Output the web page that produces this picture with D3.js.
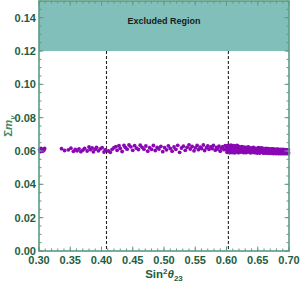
<!DOCTYPE html>
<html lang="en">
<head>
<meta charset="utf-8">
<script src="https://d3js.org/d3.v7.min.js"></script>
<style>
  body { margin: 0; background: #fff; }
  text { font-family: "Liberation Sans", Arial, sans-serif; }
</style>
</head>
<body>
<svg id="chart" width="300" height="285"></svg>
<script>
// tick labels
const xTicks = [0.30, 0.35, 0.40, 0.45, 0.50, 0.55, 0.60, 0.65, 0.70];
const yTicks = [0.00, 0.02, 0.04, 0.06, 0.08, 0.10, 0.12, 0.14];

// excluded band (cosmology bound) and 3-sigma dashed limits
const excluded = [0.12, 0.15];
const limits = [0.408, 0.603];

// scatter: sin^2 theta23 vs sum m_nu
const sin2Theta23 = [
  0.301, 0.302, 0.303, 0.304, 0.305, 0.306, 0.308, 0.309,
  0.336, 0.341, 0.347, 0.351, 0.355, 0.358, 0.361, 0.364, 0.367, 0.370, 0.373, 0.377,
  0.380, 0.382, 0.385, 0.387, 0.390, 0.392, 0.395, 0.398, 0.401, 0.404, 0.406,
  0.411, 0.414, 0.417, 0.420, 0.423, 0.425, 0.428, 0.430, 0.433, 0.436, 0.438, 0.441,
  0.444, 0.447, 0.450, 0.453, 0.456, 0.459, 0.462, 0.465, 0.468, 0.471, 0.474, 0.477,
  0.480, 0.483, 0.486, 0.489, 0.492, 0.495, 0.498,
  0.501, 0.504, 0.507, 0.510, 0.513, 0.516, 0.519, 0.522, 0.525, 0.528, 0.531, 0.534,
  0.537, 0.540, 0.542, 0.545, 0.548, 0.550, 0.553, 0.555, 0.558, 0.560, 0.563, 0.565,
  0.568, 0.570, 0.572, 0.575, 0.577, 0.579, 0.582, 0.584, 0.586, 0.588, 0.590, 0.592,
  0.594, 0.596, 0.598, 0.599,
  0.601, 0.601, 0.601, 0.601, 0.603, 0.603, 0.603, 0.603, 0.605, 0.605, 0.605, 0.605,
  0.607, 0.607, 0.607, 0.607, 0.609, 0.609, 0.609, 0.609, 0.611, 0.611, 0.611, 0.611,
  0.613, 0.613, 0.613, 0.613, 0.615, 0.615, 0.615, 0.615, 0.617, 0.617, 0.617, 0.617,
  0.619, 0.619, 0.619, 0.619, 0.621, 0.621, 0.621, 0.623, 0.623, 0.623,
  0.625, 0.625, 0.625, 0.627, 0.627, 0.627, 0.629, 0.629, 0.629, 0.631, 0.631, 0.631,
  0.633, 0.633, 0.633, 0.635, 0.635, 0.635, 0.637, 0.637, 0.637, 0.639, 0.639, 0.639,
  0.641, 0.641, 0.641, 0.643, 0.643, 0.643, 0.645, 0.645, 0.645, 0.647, 0.647, 0.647,
  0.649, 0.649, 0.649, 0.651, 0.651, 0.651, 0.653, 0.653, 0.653, 0.655, 0.655, 0.655,
  0.657, 0.657, 0.657, 0.659, 0.659, 0.659, 0.661, 0.661, 0.661, 0.663, 0.663, 0.663,
  0.665, 0.665, 0.665, 0.667, 0.667, 0.667, 0.669, 0.669, 0.669, 0.671, 0.671, 0.671,
  0.673, 0.673, 0.673, 0.675, 0.675, 0.675, 0.677, 0.677, 0.677, 0.679, 0.679, 0.679,
  0.681, 0.681, 0.681, 0.683, 0.683, 0.683, 0.685, 0.685, 0.685, 0.687, 0.687, 0.687,
  0.689, 0.689, 0.689, 0.691, 0.691, 0.691, 0.693, 0.693, 0.693, 0.695, 0.695, 0.695,
  0.697, 0.697, 0.697, 0.699, 0.699, 0.699
];
const sumMnu = [
  0.0608, 0.0596, 0.0616, 0.0602, 0.0611, 0.0599, 0.0606, 0.0615,
  0.0614, 0.0603, 0.0607, 0.0617, 0.0598, 0.0609, 0.0601, 0.0613, 0.0596, 0.0605, 0.0616, 0.0600,
  0.0624, 0.0608, 0.0618, 0.0595, 0.0611, 0.0622, 0.0601, 0.0613, 0.0620, 0.0594, 0.0606,
  0.0600, 0.0592, 0.0610, 0.0620, 0.0626, 0.0604, 0.0632, 0.0616, 0.0597, 0.0634, 0.0622, 0.0611,
  0.0636, 0.0625, 0.0604, 0.0632, 0.0617, 0.0609, 0.0635, 0.0622, 0.0611, 0.0630, 0.0599, 0.0620,
  0.0610, 0.0633, 0.0603, 0.0621, 0.0612, 0.0628, 0.0596,
  0.0620, 0.0607, 0.0631, 0.0615, 0.0599, 0.0624, 0.0610, 0.0634, 0.0592, 0.0618, 0.0629, 0.0604,
  0.0622, 0.0637, 0.0612, 0.0627, 0.0601, 0.0619, 0.0633, 0.0608, 0.0623, 0.0615, 0.0636, 0.0603,
  0.0620, 0.0630, 0.0610, 0.0625, 0.0615, 0.0634, 0.0605, 0.0621, 0.0612, 0.0629, 0.0599, 0.0617,
  0.0626, 0.0608, 0.0632, 0.0614,
  0.0630, 0.0616, 0.0604, 0.0592, 0.0634, 0.0621, 0.0608, 0.0596, 0.0628, 0.0613, 0.0600, 0.0590,
  0.0624, 0.0611, 0.0598, 0.0635, 0.0629, 0.0617, 0.0603, 0.0591, 0.0632, 0.0619, 0.0606, 0.0594,
  0.0627, 0.0614, 0.0601, 0.0589, 0.0630, 0.0618, 0.0605, 0.0593, 0.0625, 0.0612, 0.0599, 0.0633,
  0.0628, 0.0615, 0.0602, 0.0590, 0.0624, 0.0609, 0.0596, 0.0621, 0.0607, 0.0594,
  0.0626, 0.0612, 0.0598, 0.0619, 0.0605, 0.0591, 0.0623, 0.0609, 0.0596, 0.0617, 0.0603, 0.0590,
  0.0621, 0.0607, 0.0594, 0.0615, 0.0601, 0.0624, 0.0619, 0.0606, 0.0592, 0.0614, 0.0600, 0.0589,
  0.0618, 0.0604, 0.0593, 0.0612, 0.0598, 0.0622, 0.0617, 0.0603, 0.0590, 0.0613, 0.0599, 0.0608,
  0.0616, 0.0602, 0.0588, 0.0611, 0.0597, 0.0620, 0.0615, 0.0601, 0.0588, 0.0618, 0.0604, 0.0592,
  0.0611, 0.0597, 0.0617, 0.0614, 0.0600, 0.0587, 0.0611, 0.0596, 0.0605, 0.0616, 0.0599, 0.0587,
  0.0610, 0.0596, 0.0614, 0.0614, 0.0599, 0.0586, 0.0608, 0.0594, 0.0603, 0.0613, 0.0598, 0.0586,
  0.0607, 0.0593, 0.0612, 0.0612, 0.0597, 0.0585, 0.0606, 0.0592, 0.0602, 0.0611, 0.0596, 0.0585,
  0.0605, 0.0591, 0.0609, 0.0611, 0.0595, 0.0584, 0.0604, 0.0590, 0.0600, 0.0610, 0.0595, 0.0584,
  0.0604, 0.0590, 0.0608, 0.0609, 0.0594, 0.0584, 0.0603, 0.0589, 0.0599, 0.0608, 0.0593, 0.0584,
  0.0602, 0.0588, 0.0606, 0.0607, 0.0593, 0.0584
];

const svg = d3.select("#chart");
const margin = {top: 1, right: 11, bottom: 34, left: 39};
const width = 300 - margin.left - margin.right,
      height = 285 - margin.top - margin.bottom;

const frameColor = "#5c9c82",
      labelColor = "#1d5e3e";

const g = svg.append("g").attr("transform", `translate(${margin.left},${margin.top})`);

const x = d3.scaleLinear().domain([0.30, 0.70]).range([0, width]);
const y = d3.scaleLinear().domain([0, 0.15]).range([height, 0]);

// excluded region
g.append("rect")
  .attr("x", 0)
  .attr("y", y(excluded[1]))
  .attr("width", width)
  .attr("height", y(excluded[0]) - y(excluded[1]))
  .attr("fill", "#80bfba");

g.append("text")
  .attr("x", x(0.50))
  .attr("y", y(0.1375))
  .attr("text-anchor", "middle")
  .attr("dominant-baseline", "middle")
  .attr("font-size", 9)
  .attr("font-weight", "bold")
  .attr("fill", "#1a1a1a")
  .text("Excluded Region");

// dashed limits
g.selectAll(".limit")
  .data(limits)
  .join("line")
  .attr("class", "limit")
  .attr("x1", d => x(d)).attr("x2", d => x(d))
  .attr("y1", y(excluded[0])).attr("y2", height)
  .attr("stroke", "#222")
  .attr("stroke-width", 1.1)
  .attr("stroke-dasharray", "3,2");

// points
g.append("g")
  .selectAll("circle")
  .data(d3.range(sin2Theta23.length))
  .join("circle")
  .attr("cx", i => x(sin2Theta23[i]))
  .attr("cy", i => y(sumMnu[i]))
  .attr("r", 1.9)
  .attr("fill", "#8a08b4");

// frame ticks (inward, with minors)
const xMinor = d3.range(0.30, 0.7001, 0.01);
const yMinor = d3.range(0, 0.1501, 0.005);

function tickLines(sel, vals, len, horizontal, pos, dir) {
  sel.selectAll(null)
    .data(vals)
    .join("line")
    .attr("x1", d => horizontal ? x(d) : pos)
    .attr("x2", d => horizontal ? x(d) : pos + dir * len)
    .attr("y1", d => horizontal ? pos : y(d))
    .attr("y2", d => horizontal ? pos + dir * len : y(d))
    .attr("stroke", frameColor)
    .attr("stroke-width", 1);
}
const tg = g.append("g");
tickLines(tg, xMinor, 2.5, true, height, -1);
tickLines(tg, xTicks, 4.5, true, height, -1);
tickLines(tg, xMinor, 2.5, true, 0, 1);
tickLines(tg, xTicks, 4.5, true, 0, 1);
tickLines(tg, yMinor, 2.5, false, 0, 1);
tickLines(tg, yTicks, 4.5, false, 0, 1);
tickLines(tg, yMinor, 2.5, false, width, -1);
tickLines(tg, yTicks, 4.5, false, width, -1);

g.append("rect")
  .attr("width", width).attr("height", height)
  .attr("fill", "none")
  .attr("stroke", frameColor)
  .attr("stroke-width", 1.6);

// tick labels
g.selectAll(".xl")
  .data(xTicks)
  .join("text")
  .attr("x", d => x(d))
  .attr("y", height + 13)
  .attr("text-anchor", "middle")
  .attr("font-size", 11)
  .attr("font-weight", "bold")
  .attr("fill", labelColor)
  .text(d => d3.format(".2f")(d));

g.selectAll(".yl")
  .data(yTicks)
  .join("text")
  .attr("x", -3)
  .attr("y", d => y(d))
  .attr("dy", "0.35em")
  .attr("text-anchor", "end")
  .attr("font-size", 11)
  .attr("font-weight", "bold")
  .attr("fill", labelColor)
  .text(d => d3.format(".2f")(d));

// axis titles
const xt = svg.append("text")
  .attr("x", margin.left + x(0.50))
  .attr("y", 278)
  .attr("text-anchor", "middle")
  .attr("font-size", 11.5)
  .attr("font-weight", "bold")
  .attr("fill", labelColor);
xt.append("tspan").text("Sin");
xt.append("tspan").attr("font-size", 8).attr("dy", -4).text("2");
xt.append("tspan").attr("dy", 4).attr("font-style", "italic").text("\u03B8");
xt.append("tspan").attr("font-size", 8).attr("dy", 3).text("23");

const yt = svg.append("text")
  .attr("transform", `translate(12,${margin.top + y(0.075)}) rotate(-90)`)
  .attr("text-anchor", "middle")
  .attr("font-size", 11.5)
  .attr("font-weight", "bold")
  .attr("fill", "#3f8a6a");
yt.append("tspan").text("\u03A3");
yt.append("tspan").attr("font-style", "italic").text("m");
yt.append("tspan").attr("font-size", 8).attr("dy", 3).attr("font-style", "italic").text("\u03BD");
</script>
</body>
</html>
